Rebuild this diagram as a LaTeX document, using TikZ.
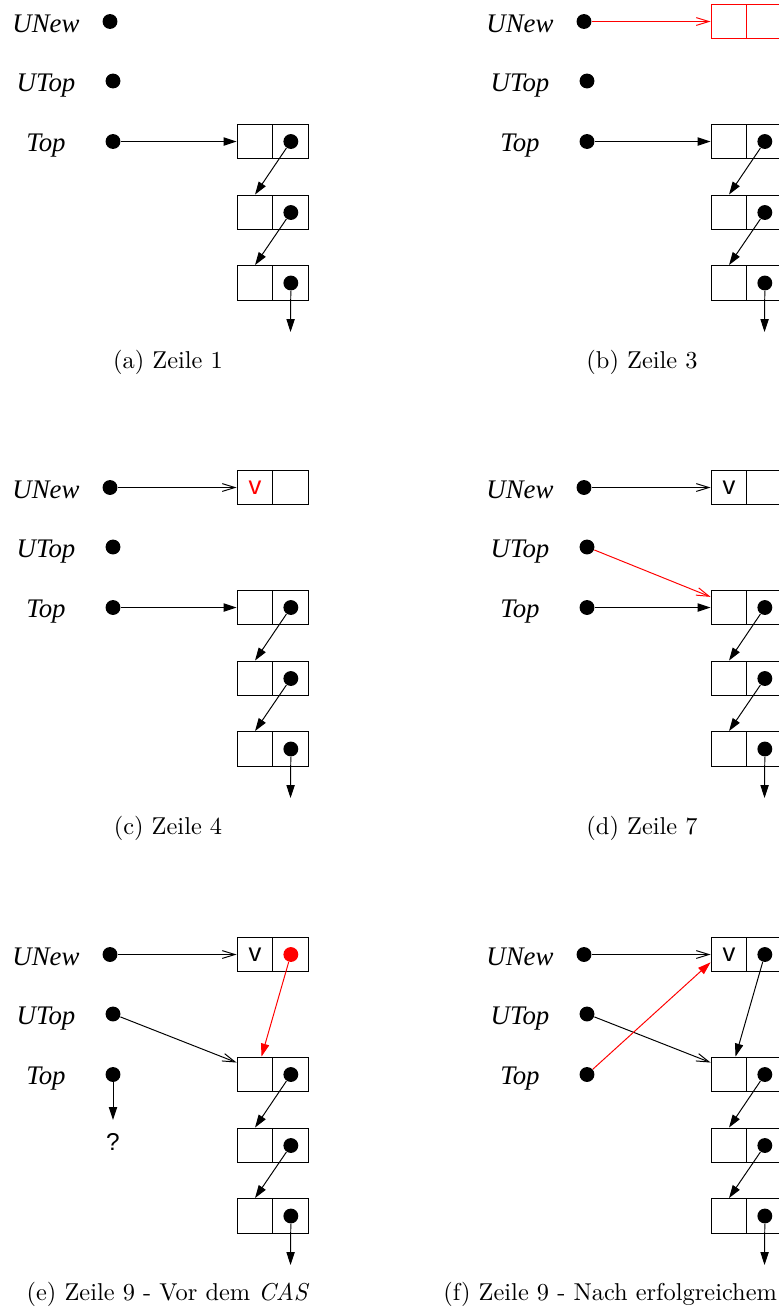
\documentclass[tikz,border=0pt]{standalone}
\usepackage{fontspec}
\usetikzlibrary{positioning,arrows.meta}
\newfontfamily\figserif{Liberation Serif}
\newfontfamily\figsans{Liberation Sans}
\tikzset{
  cell/.style={
    draw,
    inner sep=0pt,
    minimum width=14.7pt,
    minimum height=14.3pt,
    font=\figsans\fontsize{10.5}{10}\selectfont,
  },
  var/.style={
    anchor=base,
    font=\figserif\itshape\fontsize{11}{12}\selectfont,
  },
  sans/.style={
    font=\figsans\fontsize{10}{10}\selectfont,
  },
  dot/.style={
    circle,
    fill,
    inner sep=0pt,
    minimum size=6.1pt,
  },
  ptr/.style={-{Triangle[length=5.3pt,width=3.4pt]}},
  ref/.style={-{Straight Barb[length=5.2pt,width=3.2pt]}},
  caption/.style={
    font=\fontsize{10}{12}\selectfont,
  }
}

\begin{document}
\begin{tikzpicture}[x=0.41pt, y=-0.41pt, node distance=-0.4pt]
    \useasboundingbox (0,0) rectangle (779,1312);
    \clip (0,0) rectangle (779,1312);

    % variables and the old list, the same in every panel
    \foreach \p/\dx/\dy in {a/0/0, b/474/0, c/0/466, d/474/466, e/0/933, f/474/933} {
        \begin{scope}[shift={(\dx,\dy)}]
            \node [var] (\p-lnew) at (46,32) {UNew};
            \node [var] (\p-lutop) at (46,91) {UTop};
            \node [var] (\p-ltop) at (46,151) {Top};
            \node [dot] (\p-unew) at (110,21.5) {};
            \node [dot] (\p-utop) at (113,81) {};
            \node [dot] (\p-top) at (113,141.5) {};
            \foreach \i/\y in {1/141.5, 2/212.5, 3/283} {
                \node [cell] (\p-v\i) at (255,\y) {};
                \node [cell, right=of \p-v\i] (\p-n\i) {};
                \node [dot] (\p-d\i) at (\p-n\i) {};
            }
            \draw [ptr] (\p-d1) -- (\p-v2.north);
            \draw [ptr] (\p-d2) -- (\p-v3.north);
            \coordinate (\p-nil) at (290.5,332);
            \draw [ptr] (\p-d3) -- (\p-nil);
        \end{scope}
    }

    % (a)
    \draw [ptr] (a-top) -- (a-v1);

    % (b)
    \node [cell, red] (b-v0) at (729,21.5) {};
    \node [cell, red, right=of b-v0] (b-n0) {};
    \draw [ref, red] (b-unew) -- (b-v0);
    \draw [ptr] (b-top) -- (b-v1);

    % (c)
    \node [cell, text=red] (c-v0) at (255,487.5) {v};
    \node [cell, right=of c-v0] (c-n0) {};
    \draw [ref] (c-unew) -- (c-v0);
    \draw [ptr] (c-top) -- (c-v1);

    % (d)
    \node [cell] (d-v0) at (729,487.5) {v};
    \node [cell, right=of d-v0] (d-n0) {};
    \draw [ref] (d-unew) -- (d-v0);
    \draw [ref, red] (d-utop) -- (d-v1.150);
    \draw [ptr] (d-top) -- (d-v1);

    % (e)
    \node [cell] (e-v0) at (255,954.5) {v};
    \node [cell, right=of e-v0] (e-n0) {};
    \node [dot, red] (e-d0) at (e-n0) {};
    \draw [ref] (e-unew) -- (e-v0);
    \draw [ptr, red] (e-d0) -- (e-v1.70);
    \draw [ref] (e-utop) -- (e-v1.147);
    \coordinate (e-nil0) at (113,1120);
    \draw [ptr] (e-top) -- (e-nil0);
    \node [sans] (e-q) at (113,1142) {?};

    % (f)
    \node [cell] (f-v0) at (729,954.5) {v};
    \node [cell, right=of f-v0] (f-n0) {};
    \node [dot] (f-d0) at (f-n0) {};
    \draw [ref] (f-unew) -- (f-v0);
    \draw [ptr] (f-d0) -- (f-v1.70);
    \draw [ref] (f-utop) -- (f-v1.147);
    \draw [ptr, red] (f-top) -- (f-v0.203);

    \node [caption] (a-cap) at (168,362) {(a) Zeile 1};
    \node [caption] (b-cap) at (642,362) {(b) Zeile 3};
    \node [caption] (c-cap) at (168,828) {(c) Zeile 4};
    \node [caption] (d-cap) at (642,828) {(d) Zeile 7};
    \node [caption] (e-cap) at (168,1294) {(e) Zeile 9 - Vor dem \emph{CAS}};
    \node [caption, anchor=west, inner sep=0pt] (f-cap) at (443,1294) {(f) Zeile 9 - Nach erfolgreichem};
\end{tikzpicture}
\end{document}
